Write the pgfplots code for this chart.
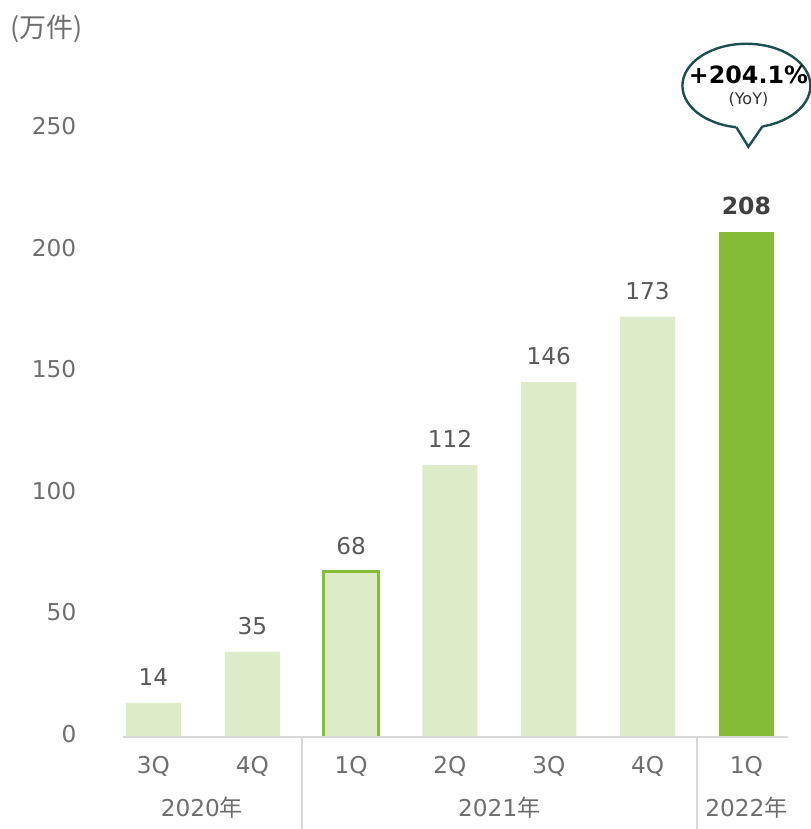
\documentclass[border=0pt]{standalone}
\usepackage{fontspec}
\setmainfont{DejaVu Sans}
\newfontfamily\cjk{Noto Sans CJK JP}
\usepackage{pgfplots}
\pgfplotsset{compat=1.18}

\definecolor{lightg}{HTML}{DDEBC9}
\definecolor{darkg}{HTML}{84BC37}
\definecolor{axisgray}{HTML}{D9D9D9}
\definecolor{tickgray}{HTML}{6E6E6E}
\definecolor{valgray}{HTML}{595959}
\definecolor{bubline}{HTML}{1E4F50}

\begin{document}
\begin{tikzpicture}
\begin{axis}[
    scale only axis, width=332.5pt, height=303.75pt,
    xmin=-0.309, xmax=6.42, ymin=0, ymax=250,
    axis lines*=left, axis on top,
    axis line style={-},
    x axis line style={draw=axisgray, line width=1pt},
    y axis line style={draw=none},
    tick style={draw=none},
    xtick={0,...,6},
    xticklabels={3Q,4Q,1Q,2Q,3Q,4Q,1Q},
    ytick={0,50,...,250},
    /pgf/number format/assume math mode=true,
    tick label style={font=\fontsize{11.6}{13}\selectfont, text=tickgray},
    xticklabel style={anchor=center, yshift=-10.5pt},
    yticklabel style={anchor=east, xshift=-19.8pt, yshift=1.5pt},
    ybar, bar width=0.557, bar shift=0pt,
    nodes near coords,
    nodes near coords style={anchor=center, yshift=13pt,
        font=\fontsize{11.6}{13}\selectfont, text=valgray},
    clip=false,
]
\addplot[fill=lightg, draw=none]
  coordinates {(0,14)(1,35)(3,112)(4,146)(5,173)};
\addplot[fill=lightg, draw=darkg, line width=1.5pt]
  coordinates {(2,68)};
\addplot[fill=darkg, draw=none,
  nodes near coords style={font=\fontsize{11.8}{13}\selectfont\bfseries, text=black!75}]
  coordinates {(6,208)};

% hide the base of the outlined bar below the axis line
\draw[white, line width=1pt] ([yshift=-0.95pt]axis cs:1.65,0) -- ([yshift=-0.95pt]axis cs:2.35,0);

% year groups
\draw[axisgray, line width=1pt] (axis cs:1.5,0) -- (axis cs:1.5,-37.9);
\draw[axisgray, line width=1pt] (axis cs:5.5,0) -- (axis cs:5.5,-37.9);
\node[font=\fontsize{11.6}{13}\selectfont, text=tickgray] at (axis cs:0.49,-29.2) {2020{\cjk 年}};
\node[font=\fontsize{11.6}{13}\selectfont, text=tickgray] at (axis cs:3.5,-29.2) {2021{\cjk 年}};
\node[font=\fontsize{11.6}{13}\selectfont, text=tickgray] at (axis cs:6,-29.2) {2022{\cjk 年}};

% unit label
\node[font=\cjk\fontsize{13.5}{15}\selectfont, text=tickgray] at (axis cs:-1.078,291.5) {(万件)};

\coordinate (bub) at (axis cs:6,268);
\coordinate (bbsw) at (axis cs:-1.553,-37.86);
\coordinate (bbne) at (axis cs:6.653,303.3);
\end{axis}

% YoY bubble
\begin{scope}[shift={(bub)}]
\draw[bubline, line width=1.2pt, fill=white] (0,0) ellipse [x radius=32pt, y radius=21pt];
\fill[white] (-5pt,-18pt) -- (-5pt,-20.8pt) -- (1pt,-30.5pt) -- (8pt,-20.3pt) -- (8pt,-18pt) -- cycle;
\draw[bubline, line width=1.2pt, line join=miter] (-5pt,-20.8pt) -- (1pt,-30.5pt) -- (8pt,-20.3pt);
\node[font=\fontsize{11.9}{13}\selectfont\bfseries] at (1pt,5.5pt) {+204.1\%};
\node[font=\fontsize{8}{10}\selectfont, text=black!80] at (1pt,-7pt) {(YoY)};
\end{scope}

\pgfresetboundingbox
\useasboundingbox (bbsw) rectangle (bbne);
\end{tikzpicture}
\end{document}
